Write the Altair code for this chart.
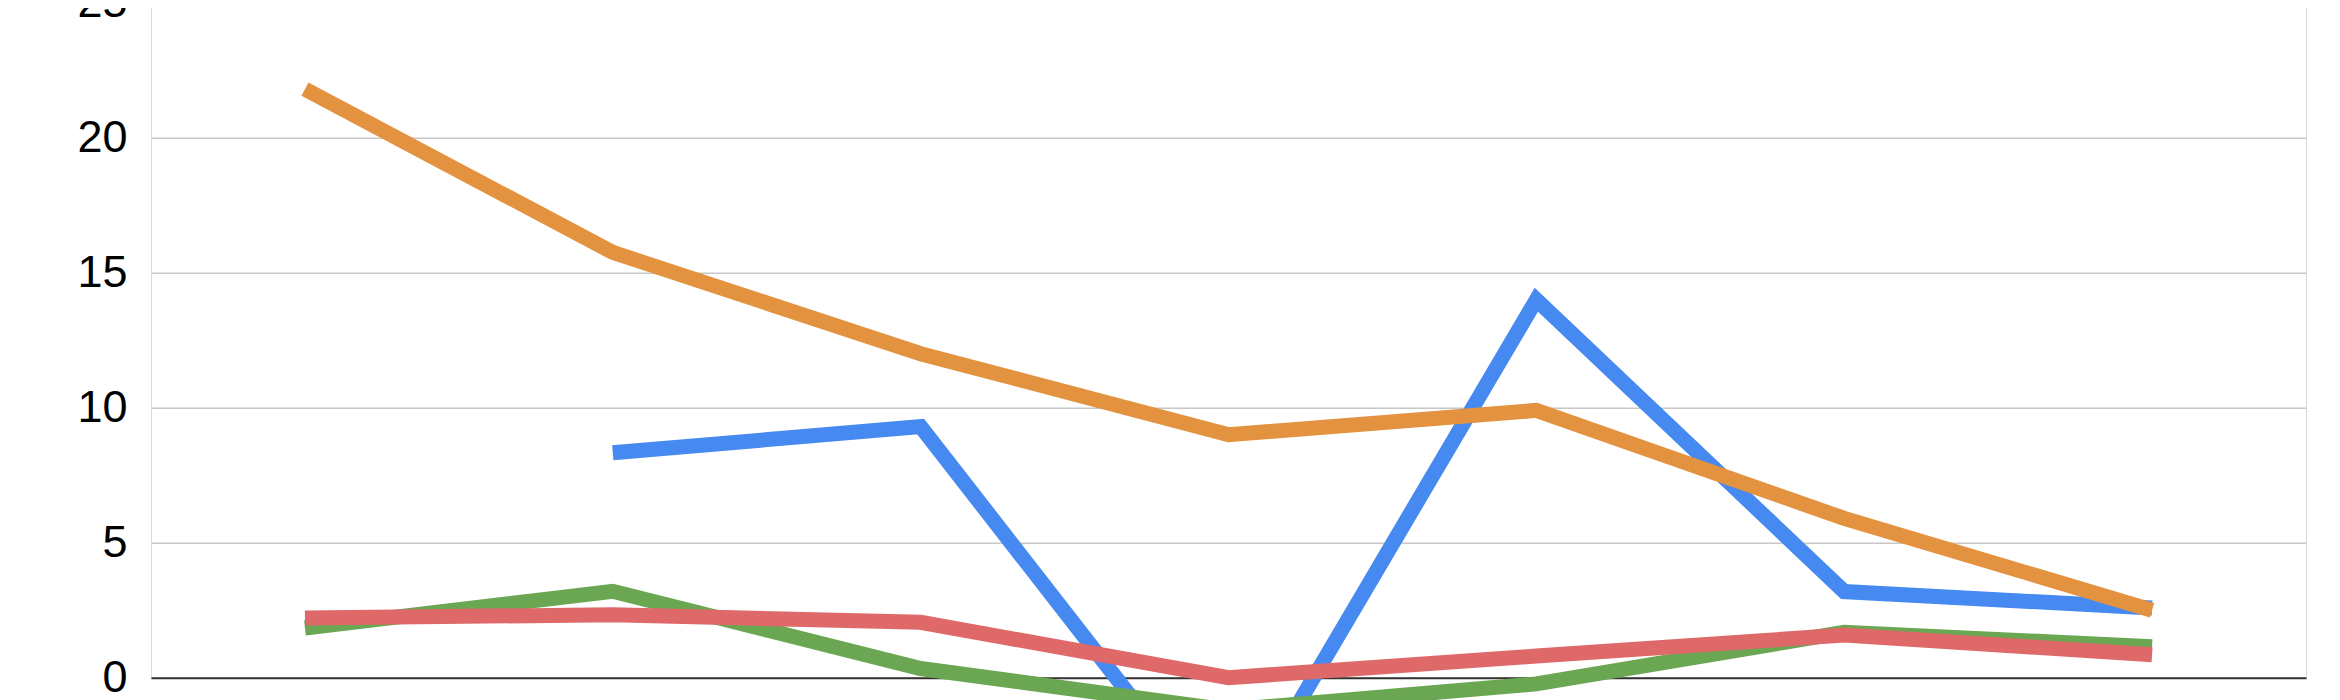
import altair as alt
import pandas as pd

categories = ["1", "2", "3", "4", "5", "6", "7"]
series_blue = [None, 8.33, 9.3, -5.35, 14.0, 3.19, 2.58]
series_orange = [21.8, 15.75, 12.0, 9.0, 9.9, 5.9, 2.5]
series_green = [1.84, 3.2, 0.34, -1.2, -0.23, 1.68, 1.15]
series_red = [2.21, 2.33, 2.05, 0.0, 0.8, 1.58, 0.85]

series_names = ["Series A", "Series B", "Series C", "Series D"]
series_values = [series_blue, series_orange, series_green, series_red]
series_colors = ["#4689F0", "#E3923F", "#6BA653", "#DF6868"]

rows = []
for name, vals in zip(series_names, series_values):
    for c, v in zip(categories, vals):
        if v is not None:
            rows.append({"cat": c, "series": name, "value": v})
df = pd.DataFrame(rows)

x_enc = alt.X("cat:N", sort=categories,
              scale=alt.Scale(type="point", padding=0.5),
              axis=alt.Axis(title=None, labels=False, ticks=False, grid=False,
                            domain=True, domainColor="#333333", domainWidth=2))
y_enc = alt.Y("value:Q",
              scale=alt.Scale(domain=[0, 25], nice=False, zero=False),
              axis=alt.Axis(title=None, values=[0, 5, 10, 15, 20, 25],
                            grid=True, gridColor="#c8c8c8", gridWidth=1.5,
                            domain=False, ticks=False, tickSize=0,
                            labelPadding=24, labelFont="Liberation Sans",
                            labelFontSize=45, labelColor="#000000"))

base = alt.Chart(df)
layers = []
for name, col in zip(series_names, series_colors):
    layers.append(
        base.transform_filter(alt.datum.series == name)
        .mark_line(color=col, strokeWidth=15, strokeJoin="miter", strokeCap="butt")
        .encode(x=x_enc, y=y_enc)
    )

chart = alt.layer(*layers).properties(
    width=2155, height=675,
    autosize=alt.AutoSizeParams(type="none"),
    padding={"left": 143, "top": -5.3, "right": 20, "bottom": 30},
).configure_view(stroke=None).configure(background="white")

chart.save("out.html", embed_options={"renderer": "svg", "actions": False})
